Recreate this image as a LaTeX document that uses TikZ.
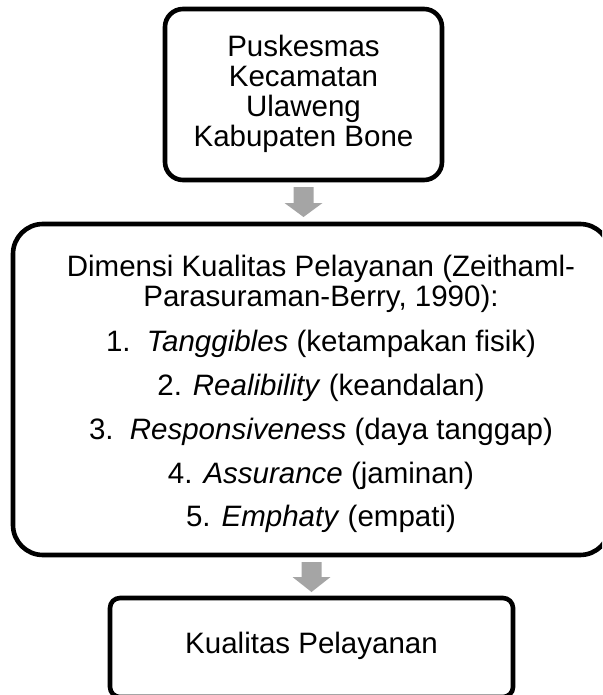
\documentclass[tikz,border=0pt]{standalone}
\usepackage{fontspec}
\setmainfont{Liberation Sans}
\usetikzlibrary{calc}
\definecolor{arrowgray}{HTML}{A5A5A5}
\tikzset{
  boxline/.style={draw=black, line width=4.6pt},
  blockarrow/.style={fill=arrowgray, draw=none},
  txt/.style={font=\fontsize{29.5}{30}\selectfont, align=center, inner sep=0pt}
}
\begin{document}
\begin{tikzpicture}[x=1pt,y=-1pt]
\useasboundingbox (0,0) rectangle (602,695);
\clip (0,0) rectangle (602,695);
\fill[white] (0,0) rectangle (602,695);
% boxes
\draw[boxline, rounded corners=18pt] (165,9) rectangle (442,180);
\coordinate (topS) at (303.5,180);
\draw[boxline, rounded corners=30pt] (13,224) rectangle (610,555);
\draw[boxline, rounded corners=10pt] (110,598) rectangle (513,697);
\coordinate (botN) at (311.5,598);
% texts
\node[txt] (toptext) at (303.5,94) {Puskesmas\\Kecamatan\\Ulaweng\\Kabupaten Bone};
\node[txt] (l1) at (321,269) {Dimensi Kualitas Pelayanan (Zeithaml-};
\node[txt] (l2) at (321,299) {Parasuraman-Berry, 1990):};
\node[txt] (i1) at (321,344) {1.\hspace{0.55em}\textit{Tanggibles} (ketampakan fisik)};
\node[txt] (i2) at (321,388) {2. \textit{Realibility} (keandalan)};
\node[txt] (i3) at (321,432) {3.\hspace{0.55em}\textit{Responsiveness} (daya tanggap)};
\node[txt] (i4) at (321,476) {4. \textit{Assurance} (jaminan)};
\node[txt] (i5) at (321,519) {5. \textit{Emphaty} (empati)};
\node[txt] (bottext) at (311.5,646) {Kualitas Pelayanan};
% block arrows
\fill[blockarrow] ($(topS)+(-10,7)$) -- ($(topS)+(10,7)$) -- ($(topS)+(10,23)$) -- ($(topS)+(19,23)$)
  -- ($(topS)+(0,37)$) -- ($(topS)+(-19,23)$) -- ($(topS)+(-10,23)$) -- cycle;
\fill[blockarrow] ($(botN)+(-10,-36)$) -- ($(botN)+(10,-36)$) -- ($(botN)+(10,-21)$) -- ($(botN)+(19,-21)$)
  -- ($(botN)+(0,-6)$) -- ($(botN)+(-19,-21)$) -- ($(botN)+(-10,-21)$) -- cycle;
\end{tikzpicture}
\end{document}
